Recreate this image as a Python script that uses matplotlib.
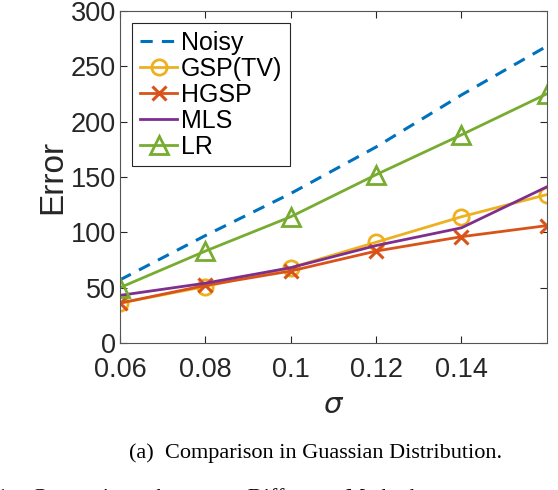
import matplotlib
matplotlib.use("Agg")
import matplotlib.pyplot as plt

plt.rcParams["font.family"] = ["Liberation Sans", "DejaVu Sans"]

# data
sigma = [0.06, 0.08, 0.10, 0.12, 0.14, 0.16]
noisy = [57, 97, 135, 177, 224, 268]
gsp_tv = [36, 51, 68, 91, 114, 134]
hgsp = [36, 52, 65, 83, 96, 106]
mls = [43, 54, 68, 88, 104, 141]
lr = [50, 83, 114, 152, 188, 225]

x_ticks = [0.06, 0.08, 0.1, 0.12, 0.14]
x_tick_labels = ["0.06", "0.08", "0.1", "0.12", "0.14"]
y_ticks = [0, 50, 100, 150, 200, 250, 300]

AX_COL = "#262626"

fig = plt.figure(figsize=(5.58, 4.9), dpi=100)
ax = fig.add_axes([0.215, 0.300, 0.765, 0.678])

ax.plot(sigma, noisy, "--", color="#0072BD", lw=2.2, dashes=(4, 3), label="Noisy")
ax.plot(sigma, gsp_tv, "-o", color="#EDB120", lw=2, ms=11, mfc="none", mew=2,
        label="GSP(TV)")
ax.plot(sigma, hgsp, "-x", color="#D95319", lw=2, ms=10, mew=2.2, label="HGSP")
ax.plot(sigma, mls, "-", color="#7E2F8E", lw=2, label="MLS")
ax.plot(sigma, lr, "-^", color="#77AC30", lw=2, ms=13, mfc="none", mew=2,
        label="LR")

ax.set_xlim(0.06, 0.16)
ax.set_ylim(0, 300)
ax.set_xticks(x_ticks)
ax.set_xticklabels(x_tick_labels)
ax.set_yticks(y_ticks)
ax.tick_params(direction="in", top=True, right=True, labelsize=19.5,
               colors=AX_COL, length=5, width=0.8)
ax.tick_params(axis="x", pad=10)
ax.tick_params(axis="y", pad=3)
for s in ax.spines.values():
    s.set_color("#555555")
    s.set_linewidth(0.8)

ax.set_ylabel("Error", fontsize=24, color=AX_COL, labelpad=2)
ax.set_xlabel(r"$\sigma$", fontsize=21, color=AX_COL, labelpad=6)

leg = ax.legend(loc="upper left", fontsize=18, handlelength=1.5,
                handletextpad=0.15, labelspacing=0.08, borderpad=0.3,
                borderaxespad=0.5, fancybox=False, framealpha=1)
leg.get_frame().set_edgecolor(AX_COL)
leg.get_frame().set_linewidth(0.8)

fig.text(0.565, 0.076, "(a)  Comparison in Guassian Distribution.",
         ha="center", va="center", fontsize=16, family="Liberation Serif")
fig.text(-0.005, -0.016, "1:   Comparison   between   Different   Methods",
         ha="left", va="center", fontsize=16, family="Liberation Serif")

fig.savefig("out.png", dpi=100)
